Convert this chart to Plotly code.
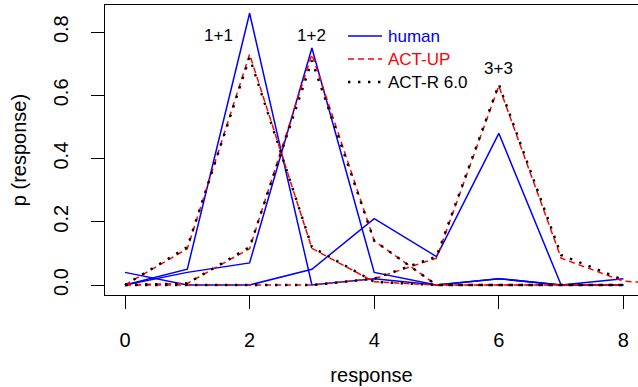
import plotly.graph_objects as go

# ---- data ----
response = [0, 1, 2, 3, 4, 5, 6, 7, 8]
response_ext = [0, 1, 2, 3, 4, 5, 6, 7, 8, 9]

human_1p1 = [0.00, 0.05, 0.86, 0.00, 0.02, 0.00, 0.02, 0.00, 0.02]
human_1p2 = [0.00, 0.04, 0.07, 0.75, 0.04, 0.00, 0.02, 0.00, 0.00]
human_3p3 = [0.04, 0.00, 0.00, 0.05, 0.21, 0.09, 0.48, 0.00, 0.00]

actup_1p1 = [0.00, 0.115, 0.73, 0.116, 0.01, 0.00, 0.00, 0.00, 0.00]
actup_1p2 = [0.00, 0.005, 0.115, 0.73, 0.14, 0.00, 0.00, 0.00, 0.00]
actup_3p3 = [0.00, 0.00, 0.00, 0.00, 0.02, 0.085, 0.63, 0.085, 0.012, 0.00]

actr_1p1 = [0.00, 0.12, 0.72, 0.12, 0.01, 0.00, 0.00, 0.00, 0.00]
actr_1p2 = [0.00, 0.005, 0.12, 0.71, 0.14, 0.00, 0.00, 0.00, 0.00]
actr_3p3 = [0.00, 0.00, 0.00, 0.00, 0.02, 0.09, 0.635, 0.095, 0.016]

problem_labels = ["1+1", "1+2", "3+3"]
label_x = [1.5, 3.0, 6.0]
label_y = [0.79, 0.79, 0.685]

legend_names = ["human", "ACT-UP", "ACT-R 6.0"]

x_ticks = [0, 2, 4, 6, 8]
y_ticks = [0.0, 0.2, 0.4, 0.6, 0.8]
y_ticktext = ["0.0", "0.2", "0.4", "0.6", "0.8"]

FONT = "Liberation Sans, Arial, Helvetica, sans-serif"
BLUE = "#0000FF"
RED = "#FF0000"
BLACK = "#000000"

# plot-area geometry (pixels) for placing the hand-drawn legend
W, H = 638, 387
ML, MR, MT, MB = 105, 0, 5, 92
PW, PH = W - ML - MR, H - MT - MB


def px_to_paper_x(px):
    return (px - ML) / PW


def px_to_paper_y(py):
    return (H - MB - py) / PH


fig = go.Figure()

human_style = dict(color=BLUE, width=1.5)
actup_style = dict(color=RED, width=1.5, dash="6px,4px")
actr_style = dict(color=BLACK, width=2.4, dash="2.4px,7.6px")
styles = [human_style, actup_style, actr_style]
text_colors = [BLUE, RED, BLACK]

for y in [human_1p1, human_1p2, human_3p3]:
    fig.add_trace(go.Scatter(x=response, y=y, mode="lines", line=human_style,
                             name=legend_names[0], showlegend=False))
for xx, y in [(response, actup_1p1), (response, actup_1p2), (response_ext, actup_3p3)]:
    fig.add_trace(go.Scatter(x=xx, y=y, mode="lines", line=actup_style,
                             name=legend_names[1], showlegend=False))
for y in [actr_1p1, actr_1p2, actr_3p3]:
    fig.add_trace(go.Scatter(x=response, y=y, mode="lines", line=actr_style,
                             name=legend_names[2], showlegend=False))

for t, xx, yy in zip(problem_labels, label_x, label_y):
    fig.add_annotation(x=xx, y=yy, text=t, showarrow=False,
                       xanchor="center", yanchor="middle",
                       font=dict(family=FONT, size=17, color=BLACK))

# legend (R-style, drawn by hand)
row_y = [36, 59, 82]
for name, st, col, ry in zip(legend_names, styles, text_colors, row_y):
    fig.add_shape(type="line", xref="paper", yref="paper",
                  x0=px_to_paper_x(348), x1=px_to_paper_x(382),
                  y0=px_to_paper_y(ry), y1=px_to_paper_y(ry),
                  line=st)
    fig.add_annotation(xref="paper", yref="paper",
                       x=px_to_paper_x(386), y=px_to_paper_y(ry),
                       text=name, showarrow=False, xanchor="left", yanchor="middle",
                       font=dict(family=FONT, size=17, color=col))

fig.update_layout(
    width=W, height=H,
    margin=dict(l=ML, r=MR, t=MT, b=MB),
    paper_bgcolor="white", plot_bgcolor="white",
    font=dict(family=FONT, size=20, color=BLACK),
    showlegend=False,
)

fig.update_xaxes(
    range=[-0.321, 8.234], tickmode="array", tickvals=x_ticks,
    ticks="outside", ticklen=13, tickwidth=1, tickcolor=BLACK,
    showline=True, linecolor=BLACK, linewidth=1, mirror=True,
    showgrid=False, zeroline=False, automargin=False,
    ticklabelstandoff=14,
    tickfont=dict(family=FONT, size=20, color=BLACK),
    title=dict(text="response", font=dict(family=FONT, size=20, color=BLACK), standoff=17),
)
fig.update_yaxes(
    range=[-0.0316, 0.886], tickmode="array", tickvals=y_ticks, ticktext=y_ticktext,
    tickangle=-90,
    ticks="outside", ticklen=13, tickwidth=1, tickcolor=BLACK,
    showline=True, linecolor=BLACK, linewidth=1, mirror=False,
    showgrid=False, zeroline=False, automargin=False,
    ticklabelstandoff=15,
    tickfont=dict(family=FONT, size=20, color=BLACK),
    title=dict(text="p (response)", font=dict(family=FONT, size=20, color=BLACK), standoff=18),
)

fig.write_html("out.html",
               config={"displayModeBar": False},
               post_script="document.body.style.margin='0px';document.body.style.padding='0px';")
